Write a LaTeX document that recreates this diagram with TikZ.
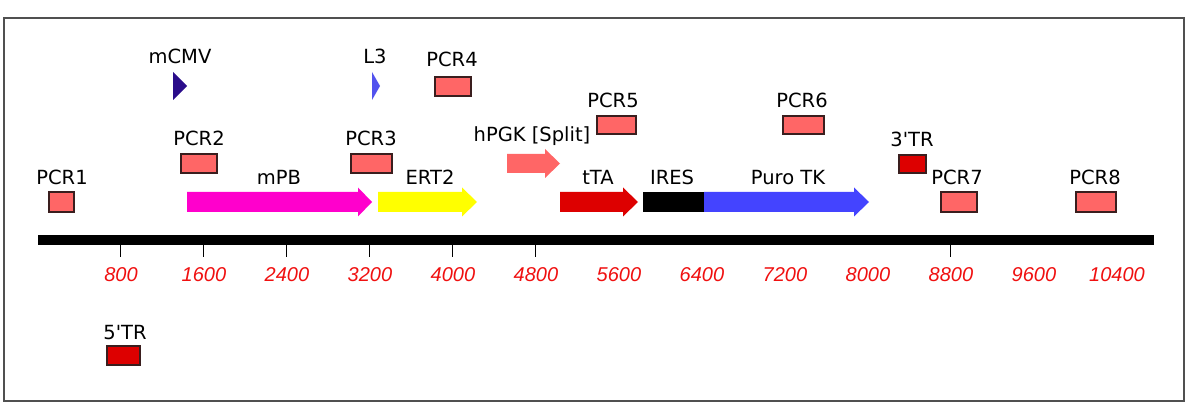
\documentclass[tikz,border=0pt]{standalone}
\usepackage{fontspec}
\setmainfont{DejaVu Sans}
\newfontfamily\labfont{DejaVu Sans}[Ligatures=TeXOff]
\newfontfamily\tickfont{Liberation Sans}
\definecolor{pcrfill}{HTML}{FF6666}
\definecolor{pcrline}{HTML}{3A1E1E}
\definecolor{trfill}{HTML}{DD0000}
\definecolor{mpbc}{HTML}{FF00CC}
\definecolor{ert}{HTML}{FFFF00}
\definecolor{ttac}{HTML}{DD0000}
\definecolor{puroc}{HTML}{4444FF}
\definecolor{cmvc}{HTML}{2A0C8A}
\definecolor{l3c}{HTML}{5252EE}
\definecolor{tickred}{HTML}{F01010}
\definecolor{framec}{HTML}{505050}
\newcommand{\featarrow}[6]{% x1, headstart, tip, yc, halfbody, color
  \fill[#6] (#1,#4-#5) -- (#2,#4-#5) -- (#2,#4-14.5) -- (#3,#4) -- (#2,#4+14.5) -- (#2,#4+#5) -- (#1,#4+#5) -- cycle;}
\begin{document}
\begin{tikzpicture}[x=1pt,y=-1pt,
  lab/.style={font=\labfont\fontsize{19.5}{20}\selectfont, anchor=base, inner sep=0pt},
  ticklab/.style={font=\tickfont\itshape\fontsize{20}{20}\selectfont, text=tickred, anchor=base, inner sep=0pt},
  pcr/.style={fill=pcrfill, draw=pcrline, line width=1.2pt},
  tr/.style={fill=trfill, draw=pcrline, line width=1.2pt},
  tickline/.style={draw=black, line width=1pt}]
\useasboundingbox (0,0) rectangle (1194,406);
\fill[white] (0,0) rectangle (1194,406);
\draw[framec, line width=2pt] (4,18) rectangle (1184,401);

% axis bar
\fill[black] (38,235) rectangle (1154,245);
\foreach \v in {800,1600,2400,3200,4000,4800,8800}
  \draw[tickline] ({38+\v*0.10375},245) -- ++(0,12);
\foreach \v in {800,1600,...,10400}
  \node[ticklab] (t\v) at ({38+\v*0.10375},281) {\v};

% feature arrows
\featarrow{187}{358}{372}{202}{10}{mpbc}
\featarrow{378}{462}{477}{202}{10}{ert}
\featarrow{560}{623}{638}{202}{10}{ttac}
\fill[black] (643,192) rectangle (704,212);
\featarrow{704}{854}{869}{202}{10}{puroc}
\featarrow{507}{545}{560}{163.5}{9.5}{pcrfill}

% promoter triangles
\fill[cmvc] (173,72) -- (187,86) -- (173,100) -- cycle;
\fill[l3c] (372,72) -- (380,86) -- (372,100) -- cycle;

% PCR boxes
\draw[pcr] (49,192) rectangle (74,212);
\draw[pcr] (181,154) rectangle (217,173);
\draw[pcr] (351,154) rectangle (392,173);
\draw[pcr] (435,77) rectangle (471,96);
\draw[pcr] (597,116) rectangle (636,134);
\draw[pcr] (783,116) rectangle (824,134);
\draw[pcr] (941,192) rectangle (977,212);
\draw[pcr] (1076,192) rectangle (1116,212);
\draw[tr] (899,155) rectangle (926,173);
\draw[tr] (107,346) rectangle (140,365);

% labels
\node[lab] (lcmv) at (180,64) {mCMV};
\node[lab] (ll3) at (375,64) {L3};
\node[lab] (lp4) at (452,67) {PCR4};
\node[lab] (lp5) at (613,108) {PCR5};
\node[lab] (lp6) at (802,108) {PCR6};
\node[lab] (lpgk) at (532,142) {hPGK [Split]};
\node[lab] (lp2) at (199,145.5) {PCR2};
\node[lab] (lp3) at (371,145.5) {PCR3};
\node[lab] (l3tr) at (912,146.5) {3'TR};
\node[lab] (lp1) at (62,184.5) {PCR1};
\node[lab] (lmpb) at (279,185) {mPB};
\node[lab] (lert) at (430,184.5) {ERT2};
\node[lab] (ltta) at (598,185) {tTA};
\node[lab] (lires) at (672,185) {IRES};
\node[lab] (lpuro) at (788,185) {Puro TK};
\node[lab] (lp7) at (957,184.5) {PCR7};
\node[lab] (lp8) at (1095,184.5) {PCR8};
\node[lab] (l5tr) at (125,339) {5'TR};
\end{tikzpicture}
\end{document}
